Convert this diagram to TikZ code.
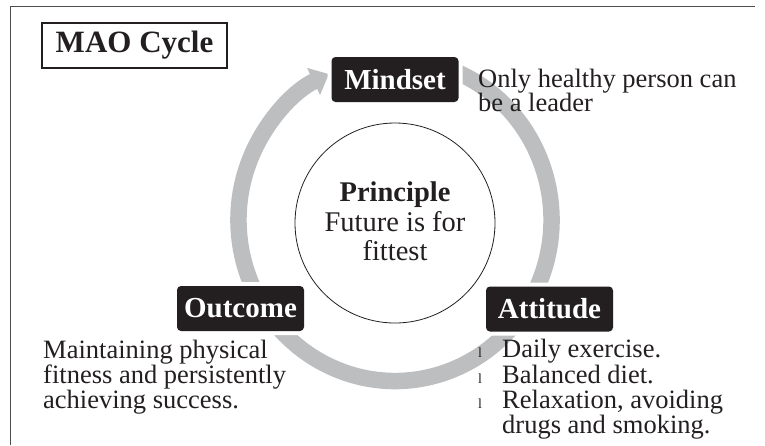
\documentclass[tikz,border=0pt]{standalone}
\usepackage{fontspec}
\setmainfont{Liberation Serif}
\usetikzlibrary{arrows.meta}
\definecolor{ink}{HTML}{231F20}
\definecolor{ringgray}{HTML}{BCBEC0}
\definecolor{framegray}{HTML}{4D4D4F}
\begin{document}
\begin{tikzpicture}[x=1pt,y=-1pt,
  lab/.style={preaction={draw=white,line width=8pt}, fill=ink, rounded corners=4pt,
    text=white, font=\fontsize{29}{30}\selectfont\bfseries,
    minimum width=127pt, minimum height=45pt, inner sep=0pt},
  txt/.style={anchor=base west, inner sep=0pt, text=ink, font=\fontsize{26.5}{25}\selectfont},
  ctxt/.style={anchor=base, inner sep=0pt, text=ink, font=\fontsize{28.5}{29}\selectfont},
  bul/.style={anchor=base west, inner sep=0pt, text=ink, font=\fontsize{14}{14}\selectfont}]
\useasboundingbox (0,0) rectangle (765,445);
% frame
\draw[framegray, line width=1pt] (10,445) -- (10,6) -- (755,6);
% title
\node[draw=ink, line width=1.5pt, minimum width=185pt, minimum height=45pt, inner sep=0pt,
  text=ink, font=\fontsize{31}{32}\selectfont\bfseries] (title) at (134.5,45.5) {MAO Cycle};
% ring
\draw[ringgray, line width=16.5pt, -{Triangle[length=17pt,width=29pt]}]
  (395,220) ++(293:156.5 and 161) arc[start angle=293, end angle=605, x radius=156.5, y radius=161];
% center circle
\node[draw=ink, line width=0.8pt, circle, minimum size=200pt, inner sep=0pt] (core) at (395,223) {};
\node[ctxt, font=\fontsize{28.5}{29}\selectfont\bfseries] (p1) at (395,201) {Principle};
\node[ctxt] (p2) at (395,231) {Future is for};
\node[ctxt] (p3) at (395,260) {fittest};
% boxes
\node[lab] (mindset) at (395,79.5) {Mindset};
\node[lab] (attitude) at (549.5,309) {Attitude};
\node[lab] (outcome) at (240.5,308.5) {Outcome};
% mindset text
\node[txt] (m1) at (478,87) {Only healthy person can};
\node[txt] (m2) at (478,111) {be a leader};
% attitude text
\node[bul] (b1) at (478,357) {l};
\node[txt] (a1) at (502,357) {Daily exercise.};
\node[bul] (b2) at (478,383) {l};
\node[txt] (a2) at (502,383) {Balanced diet.};
\node[bul] (b3) at (478,408) {l};
\node[txt] (a3) at (502,408) {Relaxation, avoiding};
\node[txt] (a4) at (502,433) {drugs and smoking.};
% outcome text
\node[txt] (o1) at (43,358) {Maintaining physical};
\node[txt] (o2) at (43,383) {fitness and persistently};
\node[txt] (o3) at (43,408) {achieving success.};
\end{tikzpicture}
\end{document}
